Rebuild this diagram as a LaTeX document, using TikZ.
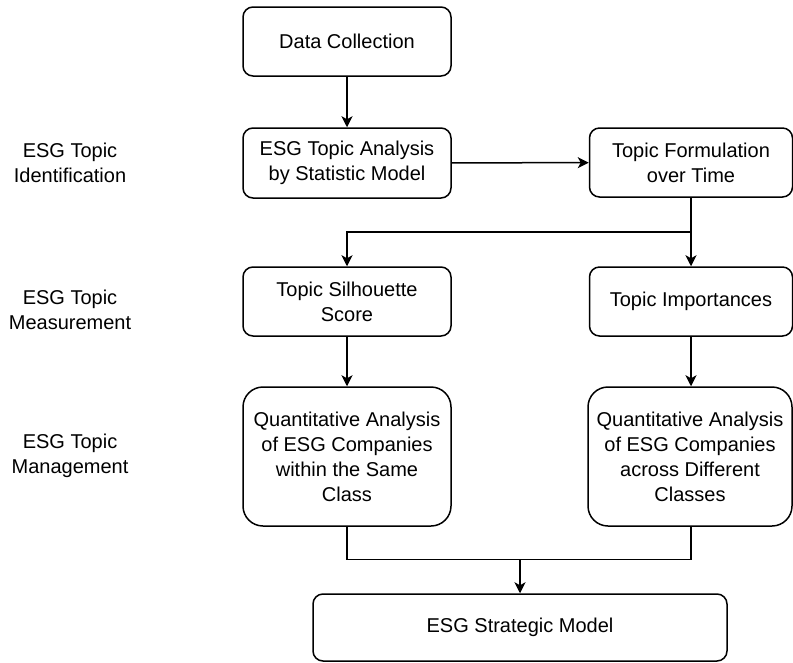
\documentclass[tikz,border=0pt]{standalone}
\usepackage{fontspec}
\setmainfont{Liberation Sans}
\usetikzlibrary{arrows.meta,positioning}
\begin{document}
\begin{tikzpicture}[x=1pt,y=-1pt,
  every node/.style={font=\fontsize{20}{25}\selectfont, align=center},
  box/.style={draw, line width=1.5pt, rounded corners=10pt, inner sep=0pt},
  bigbox/.style={box, rounded corners=20pt},
  lbl/.style={inner sep=0pt},
  conn/.style={line width=1.5pt},
  arr/.style={conn, -{Stealth[length=11pt,width=11pt,inset=3pt]}}]
\useasboundingbox (0,0) rectangle (793,662);
\node[box, minimum width=208pt, minimum height=69pt] (dc) at (347,41.5) {Data Collection};
\node[box, minimum width=208pt, minimum height=70pt] (ta) at (347,163) {ESG Topic Analysis\\by Statistic Model};
\node[box, minimum width=203pt, minimum height=69pt] (tf) at (691,162.5) {Topic Formulation\\over Time};
\node[box, minimum width=208pt, minimum height=69pt] (ss) at (347,301.5) {Topic Silhouette\\Score};
\node[box, minimum width=203pt, minimum height=69pt] (ti) at (691,301.5) {Topic Importances};
\node[bigbox, minimum width=208pt, minimum height=139pt] (qa1) at (347,456.5) {Quantitative Analysis\\of ESG Companies\\within the Same\\Class};
\node[bigbox, minimum width=204pt, minimum height=139pt] (qa2) at (690,456.5) {Quantitative Analysis\\of ESG Companies\\across Different\\Classes};
\node[box, minimum width=414pt, minimum height=67pt] (sm) at (520,627.5) {ESG Strategic Model};
\node[lbl] (l1) at (70,162.5) {ESG Topic\\Identification};
\node[lbl] (l2) at (70,309.5) {ESG Topic\\Measurement};
\node[lbl] (l3) at (70,455.5) {ESG Topic\\Management};
\coordinate (s) at (691,232);
\coordinate (j) at (520,559.5);
\draw[arr] (dc) -- (ta);
\draw[arr] (ta) -- (tf);
\draw[arr] (tf) -- (ti);
\draw[arr] (s) -| (ss.north);
\draw[arr] (ss) -- (qa1);
\draw[arr] (ti) -- (ti.south |- qa2.north);
\draw[conn] (qa1.south) |- (j) -| (ti.south |- qa2.south);
\draw[arr] (j) -- (sm.north);
\end{tikzpicture}
\end{document}
